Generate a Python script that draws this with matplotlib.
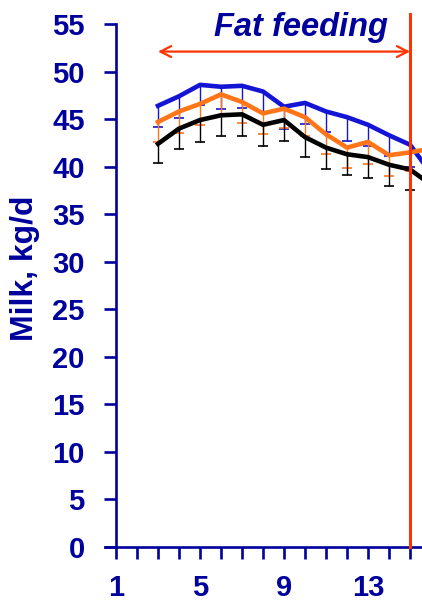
import matplotlib
matplotlib.use("Agg")
import matplotlib.pyplot as plt
import numpy as np

plt.rcParams['font.family'] = ['Liberation Sans', 'DejaVu Sans']

# ---- data ----
weeks = [3, 4, 5, 6, 7, 8, 9, 10, 11, 12, 13, 14, 15, 16]
blue = [46.4, 47.4, 48.6, 48.4, 48.5, 47.9, 46.3, 46.7, 45.8, 45.2, 44.4, 43.3, 42.3, 39.3]
blue_low = [44.2, 45.1, 46.5, 46.1, 46.2, 45.7, 44.0, 44.5, 43.6, 42.7, 42.2, 41.1, 40.0, 37.5]
orange = [44.7, 45.8, 46.6, 47.6, 46.8, 45.6, 46.1, 45.2, 43.4, 42.0, 42.6, 41.2, 41.5, 41.9]
orange_low = [42.6, 43.5, 44.4, 45.3, 44.6, 43.4, 44.1, 43.2, 41.3, 39.9, 40.3, 39.0, 39.5, 40.0]
black = [42.4, 44.0, 44.9, 45.4, 45.5, 44.4, 44.9, 43.1, 42.0, 41.3, 41.0, 40.2, 39.7, 38.1]
black_low = [40.4, 41.9, 42.6, 43.2, 43.2, 42.2, 42.7, 41.0, 39.7, 39.1, 38.8, 38.0, 37.5, 36.0]

x_ticks = list(range(1, 17))
x_labels = ['1', '', '', '', '5', '', '', '', '9', '', '', '', '13', '', '', '']
y_ticks = list(range(0, 60, 5))
fat_start, fat_end = 3, 15
annot_text = 'Fat feeding'
ylabel = 'Milk, kg/d'

NAVY = '#00009C'
BLUE = '#1414D4'
ORANGE = '#FF7518'
RED = '#FF3300'

fig = plt.figure(figsize=(4.22, 6.02), dpi=100)
ax = fig.add_axes([105/422, 55/602, 1 - 105/422, (547-24)/602])

series = [(blue, blue_low, BLUE, 1), (orange, orange_low, ORANGE, 2), (black, black_low, 'black', 3)]
for vals, low, col, z in series:
    ax.vlines(weeks, low, vals, colors=col, lw=1.0, zorder=z)
    ax.plot(weeks, low, ls='none', marker='_', ms=7, mew=1.2, color=col, zorder=z)
    ax.plot(weeks, vals, color=col, lw=3.3, solid_joinstyle='round', zorder=z + 0.5)

ax.plot([fat_end, fat_end], [0, 56.1], color=RED, lw=2.2, clip_on=False, zorder=10)
ax.annotate('', xy=(fat_start, 52.1), xytext=(fat_end, 52.1),
            arrowprops=dict(arrowstyle='<->,head_length=0.55,head_width=0.28', color=RED,
                            lw=1.6, shrinkA=0, shrinkB=0, mutation_scale=14),
            annotation_clip=False, zorder=10)
ax.text(9.79, 53.7, annot_text, ha='center', va='baseline', fontsize=23.5,
        fontweight='bold', fontstyle='italic', color=NAVY, clip_on=False)

for s in ['top', 'right']:
    ax.spines[s].set_visible(False)
ax.spines['left'].set_position(('data', 1))
for s in ['left', 'bottom']:
    ax.spines[s].set_color(NAVY)
    ax.spines[s].set_linewidth(1.9)

ax.set_xticks(x_ticks)
ax.set_xticklabels(x_labels)
ax.set_yticks(y_ticks)
ax.set_yticklabels([str(v) for v in y_ticks])
ax.set_xlim(0.476, 15.57)
ax.set_ylim(0, 55)
ax.tick_params(axis='both', direction='out', length=8.5, width=1.9, color=NAVY,
               labelcolor=NAVY, labelsize=21)
ax.tick_params(axis='x', pad=11)
ax.tick_params(axis='y', pad=14)
for lab in ax.get_xticklabels() + ax.get_yticklabels():
    lab.set_fontweight('bold')

fig.text(25/422, 1 - 268.5/602, ylabel, rotation=90, ha='center', va='center',
         fontsize=23, fontweight='bold', color=NAVY)

fig.savefig('out.png', dpi=100)
